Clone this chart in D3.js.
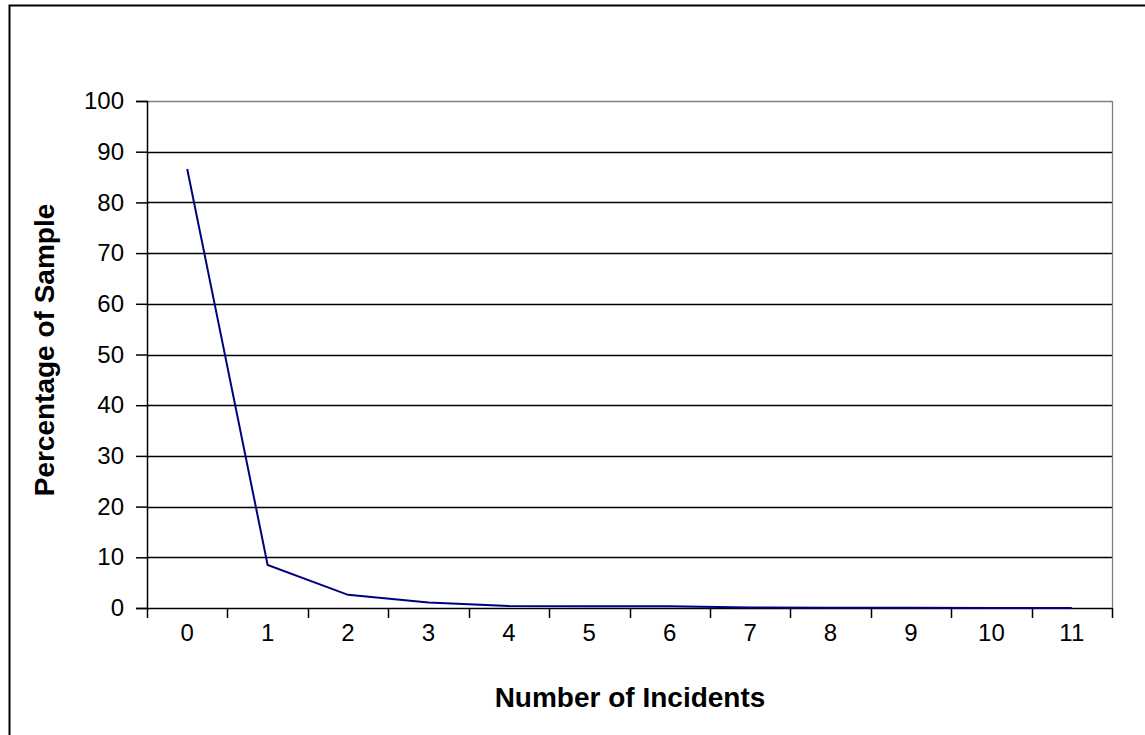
<!DOCTYPE html>
<html><head><meta charset="utf-8">
<script src="https://cdn.jsdelivr.net/npm/d3@7"></script>
<style>body{margin:0;background:#fff;}svg{display:block;}text{font-family:"Liberation Sans",Arial,sans-serif;}</style>
</head><body>
<svg id="c" width="1145" height="735"></svg>
<script>
const categories = ["0","1","2","3","4","5","6","7","8","9","10","11"];
const values = [86.6, 8.5, 2.6, 1.1, 0.4, 0.35, 0.35, 0.1, 0.05, 0.03, 0.02, 0.01];
const yTicks = [0,10,20,30,40,50,60,70,80,90,100];
const xTitle = "Number of Incidents";
const yTitle = "Percentage of Sample";

const svg = d3.select("#c");
const L = 147, R = 1112, T = 101, B = 608;
svg.append("rect").attr("x",9.5).attr("y",5.5).attr("width",1200).attr("height",800)
  .attr("fill","#fff").attr("stroke","#000").attr("stroke-width",2);

const x = d3.scaleBand().domain(categories).range([L,R]);
const y = d3.scaleLinear().domain([0,100]).range([B,T]);

// gridlines
svg.append("g").selectAll("line").data(yTicks.filter(d=>d>0)).join("line")
  .attr("x1",L).attr("x2",R).attr("y1",d=>Math.round(y(d))+0.5).attr("y2",d=>Math.round(y(d))+0.5)
  .attr("stroke",d=>d===100?"#808080":"#000").attr("stroke-width",1.3);
// right border
svg.append("line").attr("x1",R+0.5).attr("x2",R+0.5).attr("y1",T).attr("y2",B).attr("stroke","#808080").attr("stroke-width",1.3);

// y axis
const ya = d3.axisLeft(y).tickValues(yTicks).tickSize(11).tickPadding(12);
const gy = svg.append("g").attr("transform",`translate(${L},0)`).call(ya);
gy.select(".domain").attr("stroke","#000").attr("stroke-width",1.5);
gy.selectAll(".tick line").attr("stroke","#000").attr("stroke-width",1.5);
gy.selectAll(".tick text").attr("font-size",24).attr("fill","#000").attr("font-family","Liberation Sans, Arial, sans-serif");

// x axis
const xa = d3.axisBottom(x).tickSize(0).tickPadding(16);
const gx = svg.append("g").attr("transform",`translate(0,${B})`).call(xa);
gx.select(".domain").attr("stroke","#000").attr("stroke-width",1.5);
gx.selectAll(".tick text").attr("font-size",24).attr("fill","#000").attr("font-family","Liberation Sans, Arial, sans-serif");
// boundary ticks
const bounds = categories.map(c=>x(c)).concat([R]);
svg.append("g").selectAll("line").data(bounds).join("line")
  .attr("x1",d=>Math.round(d)+0.5).attr("x2",d=>Math.round(d)+0.5).attr("y1",B).attr("y2",B+10)
  .attr("stroke","#000").attr("stroke-width",1.5);

// line
const line = d3.line().x((d,i)=>x(categories[i])+x.bandwidth()/2).y(d=>y(d));
svg.append("path").datum(values).attr("d",line).attr("fill","none").attr("stroke","#000080").attr("stroke-width",2);

// titles
svg.append("text").attr("x",630).attr("y",707).attr("text-anchor","middle")
  .attr("font-size",28).attr("font-weight","bold").text(xTitle);
svg.append("text").attr("transform",`translate(54,350) rotate(-90)`).attr("text-anchor","middle")
  .attr("font-size",28).attr("font-weight","bold").text(yTitle);
</script>
</body></html>
